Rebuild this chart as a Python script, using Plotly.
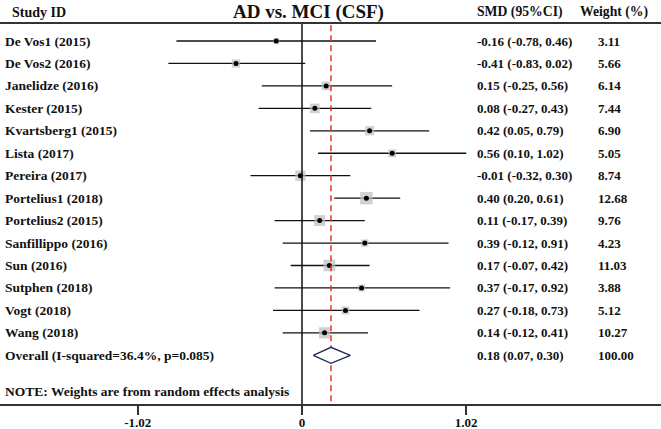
import plotly.graph_objects as go

studies = ["De Vos1 (2015)", "De Vos2 (2016)", "Janelidze (2016)", "Kester (2015)",
           "Kvartsberg1 (2015)", "Lista (2017)", "Pereira (2017)", "Portelius1 (2018)",
           "Portelius2 (2015)", "Sanfillippo (2016)", "Sun (2016)", "Sutphen (2018)",
           "Vogt (2018)", "Wang (2018)"]
smd = [-0.16, -0.41, 0.15, 0.08, 0.42, 0.56, -0.01, 0.40, 0.11, 0.39, 0.17, 0.37, 0.27, 0.14]
ci_low = [-0.78, -0.83, -0.25, -0.27, 0.05, 0.10, -0.32, 0.20, -0.17, -0.12, -0.07, -0.17, -0.18, -0.12]
ci_high = [0.46, 0.02, 0.56, 0.43, 0.79, 1.02, 0.30, 0.61, 0.39, 0.91, 0.42, 0.92, 0.73, 0.41]
weights = [3.11, 5.66, 6.14, 7.44, 6.90, 5.05, 8.74, 12.68, 9.76, 4.23, 11.03, 3.88, 5.12, 10.27]

overall_label = "Overall (I-squared=36.4%, p=0.085)"
overall = [0.18, 0.07, 0.30]
overall_weight = 100.00
note = "NOTE: Weights are from random effects analysis"
tick_vals = [-1.02, 0, 1.02]
tick_text = ["-1.02", "0", "1.02"]

W, H = 661, 429
FONT = "Liberation Serif"
PX_ZERO, PX_UNIT = 302, 161  # pixel of x=0, pixels per SMD unit
ROW0, ROW_STEP = 41, 22.45   # pixel of first row, pixels per row
AXIS_PX = 404


def row_of(py):
    return (py - ROW0) / ROW_STEP


def px(x):
    return x / W


n = len(studies)
overall_row = n
note_row = row_of(391)
top_row = row_of(23)
axis_row = row_of(AXIS_PX)
header_row = row_of(12)

fig = go.Figure()

# CI lines
for i in range(n):
    fig.add_trace(go.Scatter(x=[ci_low[i], ci_high[i]], y=[i, i], mode="lines",
                             line=dict(color="#111111", width=1.3), hoverinfo="skip"))

# weight squares + point estimate dots
fig.add_trace(go.Scatter(
    x=smd, y=list(range(n)), mode="markers",
    marker=dict(symbol="square", size=[3.5 * w ** 0.5 for w in weights], color="#bdbdbd",
                line=dict(width=0)), hoverinfo="skip"))
fig.add_trace(go.Scatter(x=smd, y=list(range(n)), mode="markers",
                         marker=dict(symbol="circle", size=5, color="black"), hoverinfo="skip"))

# zero line and overall dashed line
fig.add_trace(go.Scatter(x=[0, 0], y=[top_row, axis_row], mode="lines",
                         line=dict(color="#111111", width=1.5), hoverinfo="skip"))
fig.add_trace(go.Scatter(x=[overall[0], overall[0]], y=[top_row + 0.1, axis_row], mode="lines",
                         line=dict(color="#e5302a", width=1.5, dash="6px,4px"), hoverinfo="skip"))

# overall diamond
h = 8 / ROW_STEP
fig.add_trace(go.Scatter(
    x=[overall[1], overall[0], overall[2], overall[0], overall[1]],
    y=[overall_row, overall_row - h, overall_row, overall_row + h, overall_row],
    mode="lines", line=dict(color="#1c2a5c", width=1.3), fill="toself", fillcolor="white",
    hoverinfo="skip"))

# top rule
fig.add_shape(type="line", xref="paper", x0=0, x1=1, y0=top_row, y1=top_row,
              line=dict(color="#333333", width=2))

lab_font = dict(family=FONT, size=13.5, color="#111111", weight="bold")
val_font = dict(family=FONT, size=13, color="#111111", weight="bold")
head_font = dict(family=FONT, size=13.7, color="#111111", weight="bold")


def add_text(x_px, y, text, font, anchor="left"):
    fig.add_annotation(x=px(x_px), xref="paper", y=y, yref="y", text=text, showarrow=False,
                       xanchor=anchor, yanchor="middle", font=font)


add_text(10, header_row, "Study ID", dict(head_font, size=14))
add_text(308, header_row, "AD vs. MCI (CSF)", dict(family=FONT, size=19, color="#111111", weight="bold"),
         anchor="center")
add_text(475, header_row, "SMD (95%CI)", head_font)
add_text(578, header_row, "Weight (%)", head_font)

for i in range(n):
    add_text(3, i, studies[i], lab_font)
    add_text(475, i, f"{smd[i]:.2f} ({ci_low[i]:.2f}, {ci_high[i]:.2f})", val_font)
    add_text(596, i, f"{weights[i]:.2f}", val_font)

add_text(3, overall_row, overall_label, lab_font)
add_text(475, overall_row, f"{overall[0]:.2f} ({overall[1]:.2f}, {overall[2]:.2f})", val_font)
add_text(596, overall_row, f"{overall_weight:.2f}", val_font)
add_text(3, note_row, note, lab_font)

fig.update_layout(
    width=W, height=H, margin=dict(l=0, r=0, t=0, b=0),
    plot_bgcolor="white", paper_bgcolor="white", showlegend=False, hovermode=False,
    xaxis=dict(range=[-PX_ZERO / PX_UNIT, (W - PX_ZERO) / PX_UNIT], showgrid=False, zeroline=False,
               automargin=False, showline=True, linecolor="#333333", linewidth=1.5,
               ticks="outside", ticklen=9, tickwidth=1.5, tickcolor="#333333",
               tickvals=tick_vals, ticktext=tick_text, ticklabelstandoff=-3,
               tickfont=dict(family=FONT, size=13, color="#111111", weight="bold")),
    yaxis=dict(range=[axis_row, row_of(0)], domain=[(H - AXIS_PX) / H, 1], automargin=False,
               showgrid=False, zeroline=False, showticklabels=False, showline=False),
)

# drop the page's default body margin so the figure sits at the window corner
fig.write_html("out.html", config={"displayModeBar": False},
               post_script="document.body.style.margin='0';document.body.style.overflow='hidden';")
